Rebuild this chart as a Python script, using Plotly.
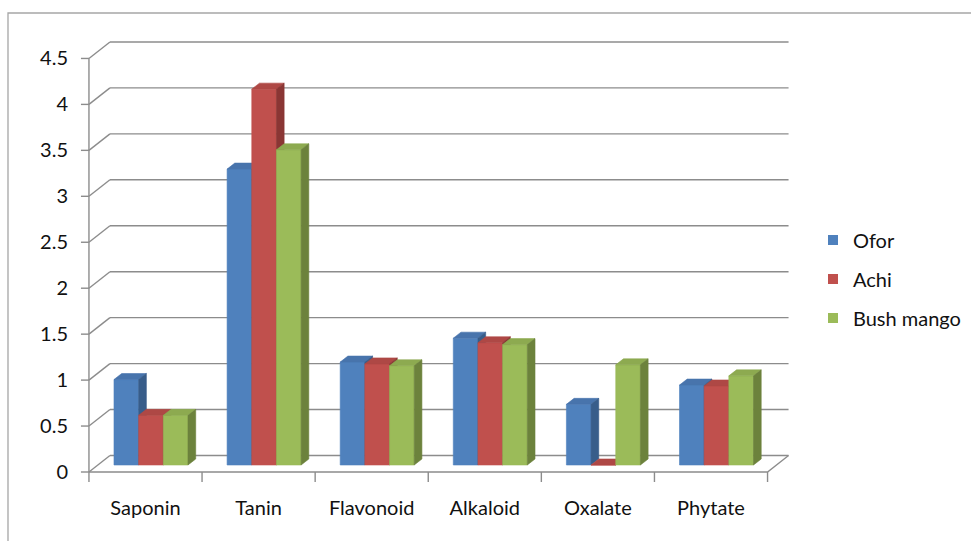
import plotly.graph_objects as go

# ---- data -------------------------------------------------------------
categories = ["Saponin", "Tanin", "Flavonoid", "Alkaloid", "Oxalate", "Phytate"]
ofor = [0.93, 3.22, 1.12, 1.38, 0.66, 0.87]
achi = [0.54, 4.09, 1.10, 1.33, 0.0, 0.86]
bush_mango = [0.54, 3.43, 1.08, 1.31, 1.09, 0.97]
series_names = ["Ofor", "Achi", "Bush mango"]
y_ticks = [0, 0.5, 1, 1.5, 2, 2.5, 3, 3.5, 4, 4.5]
y_tick_text = ["0", "0.5", "1", "1.5", "2", "2.5", "3", "3.5", "4", "4.5"]

# ---- styling / geometry ----------------------------------------------
FRONT = ["#4F81BD", "#C0504D", "#9BBB59"]
TOP = ["#4874AC", "#AE4845", "#8DAA50"]
SIDE = ["#385D8A", "#8A3634", "#6C823C"]
GRID = "#8c8c8c"
FONT = "Lato"
TEXT = "#111111"
FONT_SIZE = 20

W, H = 971, 541
ML, MR, MT, MB = 75, 171, 30, 51
PX_X = 113.1          # pixels per category
PX_Y = 91.9           # pixels per value unit
CENTER0 = 70.5        # px from plot left edge to first category centre
ZERO_FROM_BOTTOM = 18  # px from plot bottom edge to the front zero line

plot_w = W - ML - MR
plot_h = H - MT - MB
x_range = [-CENTER0 / PX_X, (plot_w - CENTER0) / PX_X]
y_range = [-ZERO_FROM_BOTTOM / PX_Y, (plot_h - ZERO_FROM_BOTTOM) / PX_Y]

WALL_X, WALL_Y = 21 / PX_X, 16.5 / PX_Y        # depth of the back wall
BAR_W = 24.67 / PX_X
BAR_DX, BAR_DY = 7.7 / PX_X, 6.0 / PX_Y         # depth of each column
GROUP_SHIFT = 5.5 / PX_X
BASE = 7.0 / PX_Y
y_max = y_ticks[-1]
n_cat = len(categories)
left, right = -0.5, n_cat - 0.5


def seg_trace(xs, ys, color, width):
    return go.Scatter(x=xs, y=ys, mode="lines", line=dict(color=color, width=width),
                      hoverinfo="skip", showlegend=False)


fig = go.Figure()

# back-wall gridlines, side-wall diagonals, floor and axis lines
gx, gy = [], []
for v in y_ticks:
    gx += [left + WALL_X, right + WALL_X, None, left, left + WALL_X, None]
    gy += [v + WALL_Y, v + WALL_Y, None, v, v + WALL_Y, None]
gx += [left, left, None, left, right, right + WALL_X, None]
gy += [0, y_max, None, 0, 0, WALL_Y, None]
# tick marks
for v in y_ticks:
    gx += [left - 8 / PX_X, left, None]
    gy += [v, v, None]
for k in range(n_cat + 1):
    gx += [left + k, left + k, None]
    gy += [0, -10 / PX_Y, None]
fig.add_trace(seg_trace(gx, gy, GRID, 1.4))

# 3-D columns: front, top and side faces per series
for s, (name, vals) in enumerate(zip(series_names, [ofor, achi, bush_mango])):
    fx, fy, tx, ty, sx, sy = [], [], [], [], [], []
    for i, v in enumerate(vals):
        xl = i + GROUP_SHIFT + (s - 1.5) * BAR_W
        xr = xl + BAR_W
        b, t = BASE, BASE + v
        fx += [xl, xr, xr, xl, xl, None]
        fy += [b, b, t, t, b, None]
        tx += [xl, xr, xr + BAR_DX, xl + BAR_DX, xl, None]
        ty += [t, t, t + BAR_DY, t + BAR_DY, t, None]
        sx += [xr, xr + BAR_DX, xr + BAR_DX, xr, xr, None]
        sy += [b, b + BAR_DY, t + BAR_DY, t, b, None]
    for xs, ys, col in [(fx, fy, FRONT[s]), (tx, ty, TOP[s]), (sx, sy, SIDE[s])]:
        fig.add_trace(go.Scatter(x=xs, y=ys, mode="lines", fill="toself",
                                 fillcolor=col, line=dict(color=col, width=0.6),
                                 hoverinfo="skip", showlegend=False, legendgroup=name))
    # legend entry
    fig.add_trace(go.Scatter(x=[None], y=[None], mode="markers", name=name,
                             legendgroup=name,
                             marker=dict(symbol="square", size=10, color=FRONT[s])))

fig.update_layout(
    width=W, height=H,
    margin=dict(l=ML, r=MR, t=MT, b=MB, autoexpand=False),
    paper_bgcolor="white", plot_bgcolor="white",
    font=dict(family=FONT, size=FONT_SIZE, color=TEXT),
    showlegend=True,
    legend=dict(x=(813 - ML) / plot_w, xanchor="left",
                y=(plot_h + MT - 279) / plot_h, yanchor="middle",
                tracegroupgap=10, bgcolor="rgba(0,0,0,0)",
                font=dict(family=FONT, size=FONT_SIZE, color=TEXT)),
    xaxis=dict(range=x_range, showgrid=False, zeroline=False, showline=False,
               tickmode="array", tickvals=list(range(n_cat)), ticktext=categories,
               ticks="", ticklabelstandoff=4, fixedrange=True),
    yaxis=dict(range=y_range, showgrid=False, zeroline=False, showline=False,
               tickmode="array", tickvals=y_ticks, ticktext=y_tick_text,
               ticks="", ticklabelstandoff=6, fixedrange=True),
    shapes=[dict(type="rect", xref="paper", yref="paper",
                 x0=(8 - ML) / plot_w, x1=(985 - ML) / plot_w,
                 y0=(plot_h + MT - 560) / plot_h, y1=(plot_h + MT - 13) / plot_h,
                 line=dict(color="#a6a6a6", width=1.3), layer="below")],
)

fig.write_html("out.html")
